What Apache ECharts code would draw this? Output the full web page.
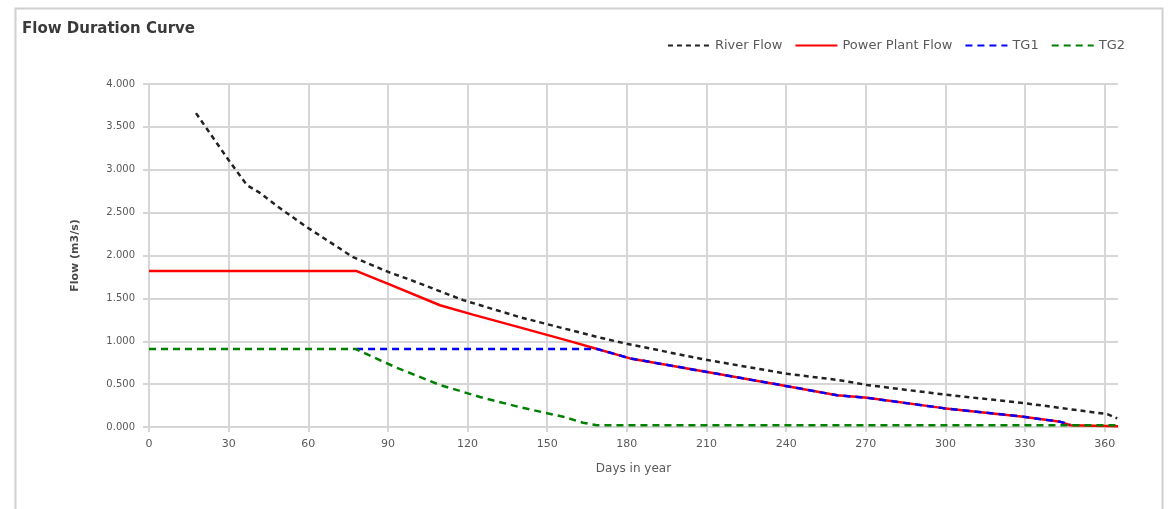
<!DOCTYPE html>
<html>
<head>
<meta charset="utf-8">
<title>Flow Duration Curve</title>
<script src="https://cdn.jsdelivr.net/npm/echarts@6/dist/echarts.min.js"></script>
<style>
  html, body { margin: 0; padding: 0; background: #ffffff; }
  #chart { width: 1170px; height: 509px; }
</style>
</head>
<body>
<div id="chart"></div>
<script>
// Days in year (x) and flow in m3/s (y) for each curve
const riverDays   = [17.7, 30.5, 36.9, 41.8, 49.4, 59.5, 76.9, 90.8, 97.2, 118.3, 139.8, 168.8, 178.6, 208.7, 240.4, 259.2, 270.5, 299.2, 329.3, 361, 364.7];
const riverFlow   = [3.66, 3.09, 2.82, 2.73, 2.55, 2.33, 1.98, 1.80, 1.73, 1.48, 1.28, 1.05, 0.98, 0.79, 0.62, 0.55, 0.49, 0.38, 0.28, 0.15, 0.10];

const plantDays   = [0, 78, 90.8, 109.6, 122, 141, 159.8, 168.8, 181.2, 208.7, 237.8, 259.2, 270.5, 299.2, 329.3, 343.3, 347, 365];
const plantFlow   = [1.82, 1.82, 1.66, 1.42, 1.31, 1.15, 0.99, 0.91, 0.80, 0.65, 0.49, 0.37, 0.34, 0.22, 0.12, 0.06, 0.02, 0.01];

const tg1Days     = [78, 168.8, 181.2, 208.7, 237.8, 259.2, 270.5, 299.2, 329.3, 343.3, 347];
const tg1Flow     = [0.91, 0.91, 0.80, 0.65, 0.49, 0.37, 0.34, 0.22, 0.12, 0.06, 0.03];

const tg2Days     = [0, 77.7, 80.6, 93.4, 109.6, 124.7, 139.8, 156, 163.5, 168.8, 365];
const tg2Flow     = [0.91, 0.91, 0.87, 0.69, 0.49, 0.35, 0.23, 0.12, 0.05, 0.02, 0.02];

const seriesNames = ['River Flow', 'Power Plant Flow', 'TG1', 'TG2'];

function pairs(xs, ys) {
  return xs.map((x, i) => [x, ys[i]]);
}

const gridColor = '#d6d6d6';
const textColor = '#595959';
const fontFamily = '"DejaVu Sans", "Liberation Sans", sans-serif';

const chart = echarts.init(document.getElementById('chart'), null, { renderer: 'canvas' });

chart.setOption({
  animation: false,
  backgroundColor: '#ffffff',
  title: {
    text: 'Flow Duration Curve',
    left: 17,
    top: 17,
    textStyle: { fontSize: 15, fontWeight: 'bold', color: '#3a3a3a', fontFamily: fontFamily }
  },
  legend: {
    data: seriesNames,
    right: 40,
    top: 34,
    itemWidth: 42,
    itemHeight: 12,
    itemGap: 12,
    // line-only legend keys: the marker dot is hidden
    itemStyle: { opacity: 0 },
    textStyle: { fontSize: 13, color: textColor, fontFamily: fontFamily }
  },
  grid: { left: 149, right: 52, top: 84, bottom: 82 },
  xAxis: {
    type: 'value',
    min: 0,
    max: 365,
    interval: 30,
    name: 'Days in year',
    nameLocation: 'middle',
    nameGap: 36,
    nameTextStyle: { fontSize: 12, color: textColor, fontFamily: fontFamily },
    axisLine: { show: true, lineStyle: { color: gridColor, width: 2 } },
    axisTick: { show: true, length: 5, lineStyle: { color: gridColor, width: 2 } },
    axisLabel: { fontSize: 11, color: textColor, margin: 12, fontFamily: fontFamily, showMaxLabel: false },
    splitLine: { show: true, showMaxLine: false, lineStyle: { color: gridColor, width: 2 } }
  },
  yAxis: {
    type: 'value',
    min: 0,
    max: 4,
    interval: 0.5,
    name: 'Flow (m3/s)',
    nameLocation: 'middle',
    nameGap: 68,
    nameRotate: 90,
    nameTextStyle: { fontSize: 11, fontWeight: 'bold', color: '#4a4a4a', fontFamily: fontFamily },
    axisLine: { show: true, lineStyle: { color: gridColor, width: 2 } },
    axisTick: { show: true, length: 6, lineStyle: { color: gridColor, width: 2 } },
    axisLabel: {
      fontSize: 10, color: textColor, margin: 14, fontFamily: fontFamily,
      formatter: v => v.toFixed(3)
    },
    splitLine: { show: true, lineStyle: { color: gridColor, width: 2 } }
  },
  series: [
    {
      name: 'River Flow', type: 'line', symbol: 'none',
      data: pairs(riverDays, riverFlow),
      lineStyle: { color: '#222222', width: 2.5, type: [5, 4] },
      itemStyle: { color: '#222222' }
    },
    {
      name: 'Power Plant Flow', type: 'line', symbol: 'none',
      data: pairs(plantDays, plantFlow),
      lineStyle: { color: '#ff0000', width: 2.5, type: 'solid' },
      itemStyle: { color: '#ff0000' }
    },
    {
      name: 'TG1', type: 'line', symbol: 'none',
      data: pairs(tg1Days, tg1Flow),
      lineStyle: { color: '#0000ff', width: 2.5, type: [7, 5] },
      itemStyle: { color: '#0000ff' }
    },
    {
      name: 'TG2', type: 'line', symbol: 'none',
      data: pairs(tg2Days, tg2Flow),
      lineStyle: { color: '#008000', width: 2.5, type: [7, 5] },
      itemStyle: { color: '#008000' }
    }
  ],
  graphic: [
    {
      type: 'rect',
      left: 13, top: 6,
      shape: { width: 1147, height: 520 },
      style: { fill: 'none', stroke: '#d0d0d0', lineWidth: 2 },
      silent: true
    }
  ]
});
</script>
</body>
</html>
